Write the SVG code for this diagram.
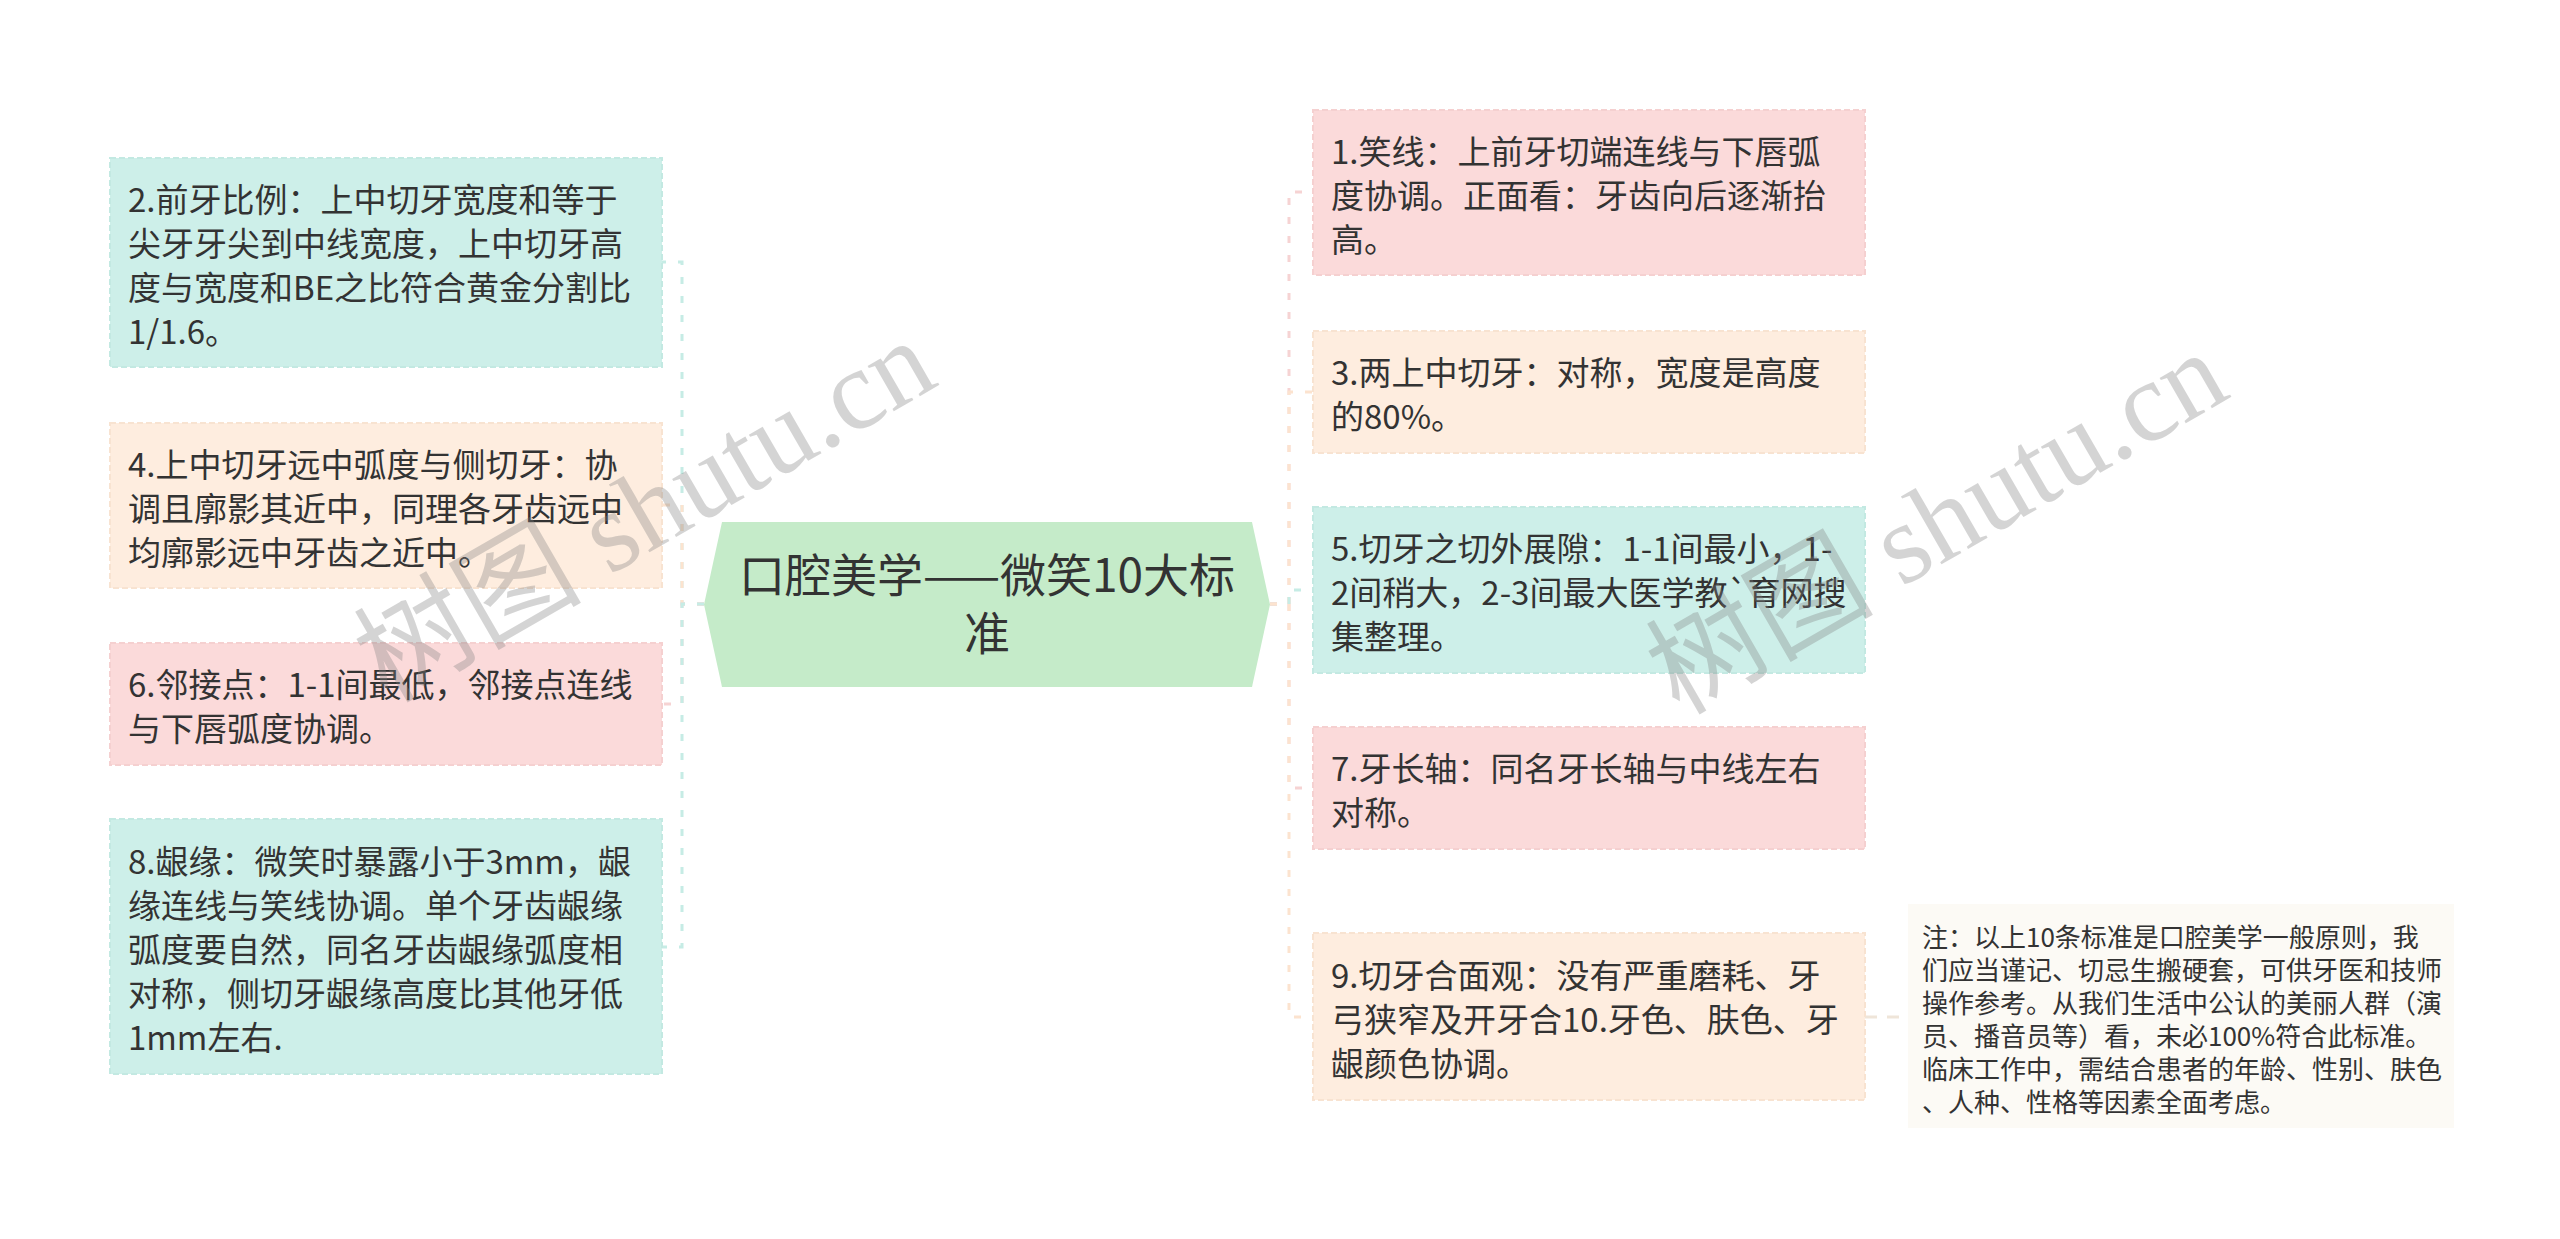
<svg xmlns="http://www.w3.org/2000/svg" width="2560" height="1239" viewBox="0 0 2560 1239">
<style>
  .t { font-family: "Noto Sans CJK SC", "Microsoft YaHei", sans-serif; font-size: 33px; fill: #333333; }
  .c { font-family: "Noto Sans CJK SC", sans-serif; font-size: 46px; fill: #333333; text-anchor: middle; }
  .n { font-family: "Noto Sans CJK SC", sans-serif; font-size: 26px; fill: #333333; }
  .teal { fill: #cdefe9; stroke: #c3e9e2; }
  .peach { fill: #feeddf; stroke: #f8e3d1; }
  .pink { fill: #fbdada; stroke: #f5d0d0; }
  .box { stroke-width: 2; stroke-dasharray: 6 3; }
  .ln { fill: none; stroke-width: 3; stroke-dasharray: 7 12; }
  .lteal { stroke: #c6ece5; }
  .lpeach { stroke: #fce3cf; }
  .lpink { stroke: #f6d3d3; }
  .wm { font-family: "Liberation Serif", "Noto Sans CJK SC", serif; font-size: 114px; fill: #808080; opacity: 0.33; }
</style>
<rect x="0" y="0" width="2560" height="1239" fill="#ffffff"/>
<g id="connectors">
  <path class="ln lteal" d="M704,604 H682 V262 H662"/>
  <path class="ln lpeach" d="M704,604 H682 V505 H662"/>
  <path class="ln lpink" d="M704,604 H682 V704 H662"/>
  <path class="ln lteal" d="M704,604 H682 V947 H662"/>
  <path class="ln lpink" d="M1270,604 H1289 V192 H1313"/>
  <path class="ln lpeach" d="M1270,604 H1289 V392 H1313"/>
  <path class="ln lteal" d="M1270,604 H1289 V590 H1313"/>
  <path class="ln lpink" d="M1270,604 H1289 V788 H1313"/>
  <path class="ln lpeach" d="M1270,604 H1289 V1017 H1313"/>
  <path fill="none" stroke="#efe5d9" stroke-width="3" stroke-dasharray="12 10" d="M1865,1017 H1908"/>
</g>
<g id="root">
  <polygon points="722,522 1252,522 1270,604.5 1252,687 722,687 704,604.5" fill="#c5ebc9"/>
  <text class="c"><tspan x="987" y="592">口腔美学——微笑10大标</tspan><tspan x="987" y="650">准</tspan></text>
</g>
<g id="node2">
  <rect class="box teal" x="110" y="158" width="552" height="209"/>
  <text class="t"><tspan x="128" y="211.5">2.前牙比例：上中切牙宽度和等于</tspan><tspan x="128" y="255.5">尖牙牙尖到中线宽度，上中切牙高</tspan><tspan x="128" y="299.5">度与宽度和BE之比符合黄金分割比</tspan><tspan x="128" y="343.5">1/1.6。</tspan></text>
</g>
<g id="node4">
  <rect class="box peach" x="110" y="423" width="552" height="165"/>
  <text class="t"><tspan x="128" y="476.5">4.上中切牙远中弧度与侧切牙：协</tspan><tspan x="128" y="520.5">调且廓影其近中，同理各牙齿远中</tspan><tspan x="128" y="564.5">均廓影远中牙齿之近中。</tspan></text>
</g>
<g id="node6">
  <rect class="box pink" x="110" y="643" width="552" height="122"/>
  <text class="t"><tspan x="128" y="697">6.邻接点：1-1间最低，邻接点连线</tspan><tspan x="128" y="741">与下唇弧度协调。</tspan></text>
</g>
<g id="node8">
  <rect class="box teal" x="110" y="819" width="552" height="255"/>
  <text class="t"><tspan x="128" y="873.5">8.龈缘：微笑时暴露小于3mm，龈</tspan><tspan x="128" y="917.5">缘连线与笑线协调。单个牙齿龈缘</tspan><tspan x="128" y="961.5">弧度要自然，同名牙齿龈缘弧度相</tspan><tspan x="128" y="1005.5">对称，侧切牙龈缘高度比其他牙低</tspan><tspan x="128" y="1049.5">1mm左右.</tspan></text>
</g>
<g id="node1">
  <rect class="box pink" x="1313" y="110" width="552" height="165"/>
  <text class="t"><tspan x="1331" y="163.5">1.笑线：上前牙切端连线与下唇弧</tspan><tspan x="1331" y="207.5">度协调。正面看：牙齿向后逐渐抬</tspan><tspan x="1331" y="251.5">高。</tspan></text>
</g>
<g id="node3">
  <rect class="box peach" x="1313" y="331" width="552" height="122"/>
  <text class="t"><tspan x="1331" y="385">3.两上中切牙：对称，宽度是高度</tspan><tspan x="1331" y="429">的80%。</tspan></text>
</g>
<g id="node5">
  <rect class="box teal" x="1313" y="507" width="552" height="166"/>
  <text class="t"><tspan x="1331" y="561">5.切牙之切外展隙：1-1间最小，1-</tspan><tspan x="1331" y="605">2间稍大，2-3间最大医学教`育网搜</tspan><tspan x="1331" y="649">集整理。</tspan></text>
</g>
<g id="node7">
  <rect class="box pink" x="1313" y="727" width="552" height="122"/>
  <text class="t"><tspan x="1331" y="781">7.牙长轴：同名牙长轴与中线左右</tspan><tspan x="1331" y="825">对称。</tspan></text>
</g>
<g id="node9">
  <rect class="box peach" x="1313" y="933" width="552" height="167"/>
  <text class="t"><tspan x="1331" y="987.5">9.切牙合面观：没有严重磨耗、牙</tspan><tspan x="1331" y="1031.5">弓狭窄及开牙合10.牙色、肤色、牙</tspan><tspan x="1331" y="1075.5">龈颜色协调。</tspan></text>
</g>
<g id="note">
  <rect x="1908" y="904" width="546" height="224" fill="#fcfaf5"/>
  <text class="n"><tspan x="1922" y="946.5">注：以上10条标准是口腔美学一般原则，我</tspan><tspan x="1922" y="979.5">们应当谨记、切忌生搬硬套，可供牙医和技师</tspan><tspan x="1922" y="1012.5">操作参考。从我们生活中公认的美丽人群（演</tspan><tspan x="1922" y="1045.5">员、播音员等）看，未必100%符合此标准。</tspan><tspan x="1922" y="1078.5">临床工作中，需结合患者的年龄、性别、肤色</tspan><tspan x="1922" y="1111.5">、人种、性格等因素全面考虑。</tspan></text>
</g>
<g id="watermarks">
  <text class="wm" text-anchor="middle" transform="translate(664,544) rotate(-30)">树图 shutu.cn</text>
  <text class="wm" text-anchor="middle" transform="translate(1956,556) rotate(-30)">树图 shutu.cn</text>
</g>
</svg>
